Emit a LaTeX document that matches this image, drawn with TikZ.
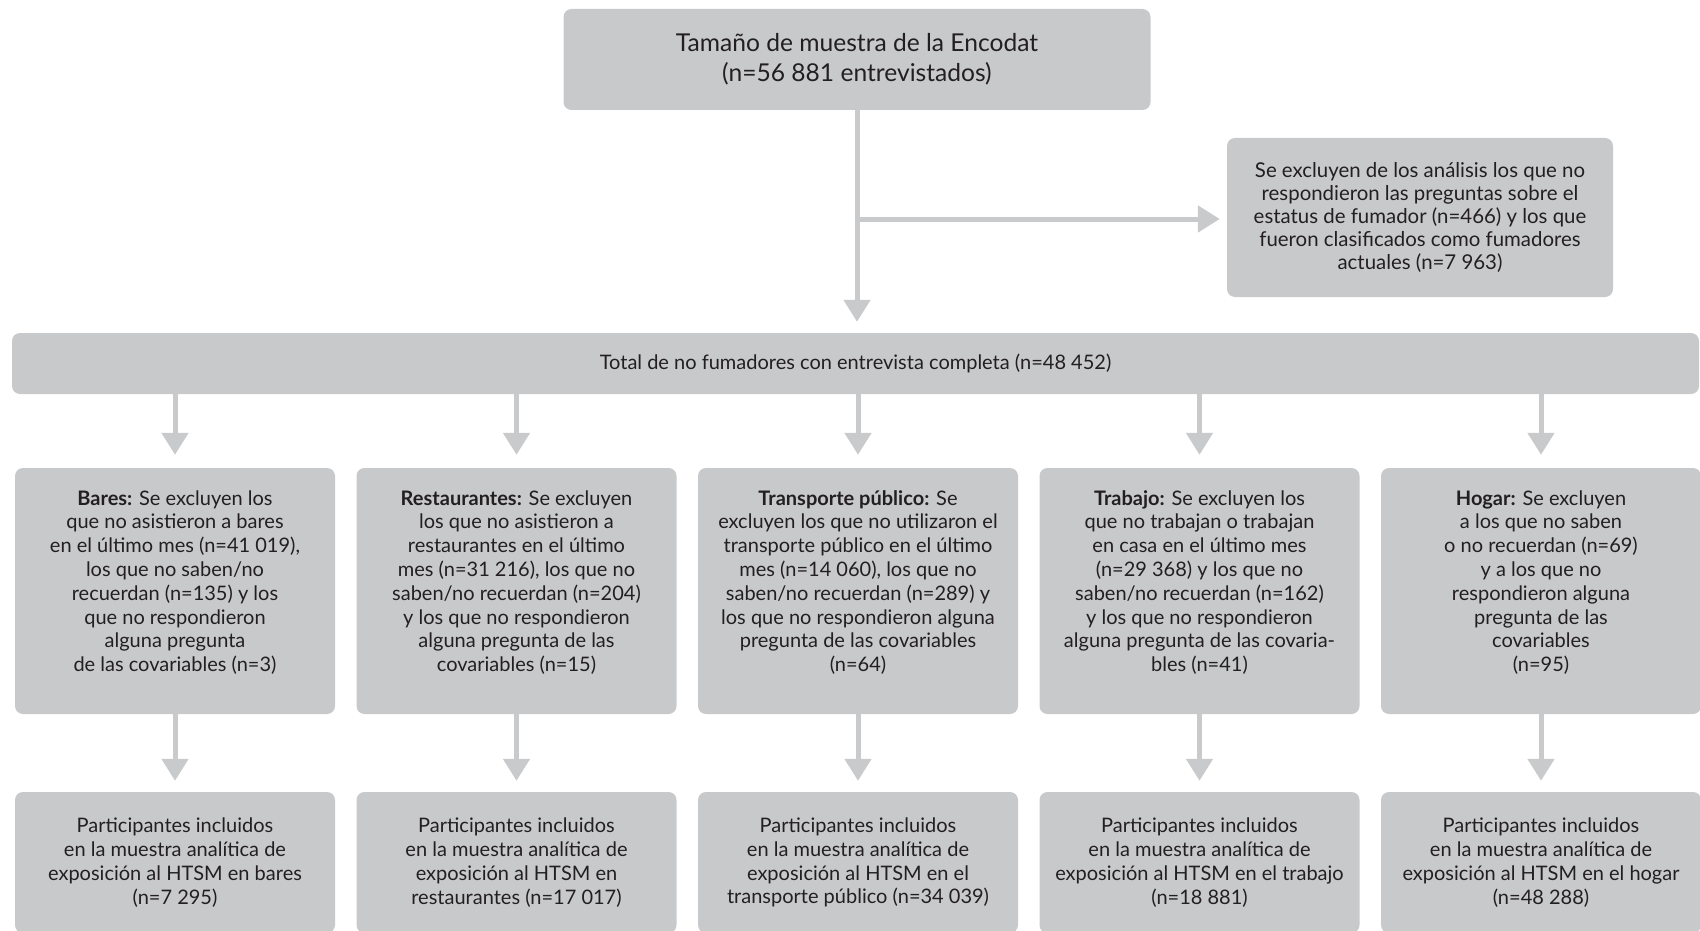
\documentclass[tikz,border=0pt]{standalone}
\usepackage{fontspec}
\setmainfont{Lato}
\usetikzlibrary{arrows.meta}
\definecolor{boxgray}{HTML}{C8C9CB}
\definecolor{arrgray}{HTML}{C9CACC}
\definecolor{txt}{HTML}{231F20}
\newcommand{\midtext}[1]{\parbox[t][215pt][t]{320pt}{\centering\rule{0pt}{21.5pt}#1}}
\tikzset{
  box/.style={fill=boxgray, rounded corners=8pt, draw=none, text=txt, inner sep=0pt, align=center},
  bodyfont/.style={font=\fontsize{20}{23.8}\selectfont},
  midbox/.style={box, bodyfont, minimum width=320pt, minimum height=246pt, inner ysep=15.5pt},
  botbox/.style={box, bodyfont, minimum width=320pt, minimum height=141pt},
  arr/.style={draw=arrgray, line width=5pt, -{Triangle[width=26pt,length=22pt]}}
}
\begin{document}
\begin{tikzpicture}[x=1pt,y=-1pt]
\useasboundingbox (0,0) rectangle (1700,931);

\node[box, minimum width=587pt, minimum height=101pt, font=\fontsize{24.6}{30}\selectfont] (top) at (857,59.5)
  {Tamaño de muestra de la Encodat\\(n=56~881 entrevistados)};

\node[box, minimum width=386pt, minimum height=159pt, font=\fontsize{20.4}{23}\selectfont] (excl) at (1420,217.5)
  {Se excluyen de los análisis los que no\\respondieron las preguntas sobre el\\estatus de fumador (n=466) y los que\\fueron clasificados como fumadores\\actuales (n=7~963)};

\node[box, bodyfont, minimum width=1687pt, minimum height=61pt] (total) at (855.5,363.5)
  {Total de no fumadores con entrevista completa (n=48~452)};

\node[midbox] (m1) at (175,591) {\midtext{\textbf{Bares:} Se excluyen los\\que no asistieron a bares\\en el último mes (n=41~019),\\los que no saben/no\\recuerdan (n=135) y los\\que no respondieron\\alguna pregunta\\de las covariables (n=3)}};
\node[midbox] (m2) at (516.5,591) {\midtext{\textbf{Restaurantes:} Se excluyen\\los que no asistieron a\\restaurantes en el último\\mes (n=31~216), los que no\\saben/no recuerdan (n=204)\\y los que no respondieron\\alguna pregunta de las\\covariables (n=15)}};
\node[midbox] (m3) at (858,591) {\midtext{\textbf{Transporte público:} Se\\excluyen los que no utilizaron el\\transporte público en el último\\mes (n=14~060), los que no\\saben/no recuerdan (n=289) y\\los que no respondieron alguna\\pregunta de las covariables\\(n=64)}};
\node[midbox] (m4) at (1199.5,591) {\midtext{\textbf{Trabajo:} Se excluyen los\\que no trabajan o trabajan\\en casa en el último mes\\(n=29~368) y los que no\\saben/no recuerdan (n=162)\\y los que no respondieron\\alguna pregunta de las covaria-\\bles (n=41)}};
\node[midbox] (m5) at (1541,591) {\midtext{\textbf{Hogar:} Se excluyen\\a los que no saben\\o no recuerdan (n=69)\\y a los que no\\respondieron alguna\\pregunta de las\\covariables\\(n=95)}};

\node[botbox] (b1) at (175,862.5) {Participantes incluidos\\en la muestra analítica de\\exposición al HTSM en bares\\(n=7~295)};
\node[botbox] (b2) at (516.5,862.5) {Participantes incluidos\\en la muestra analítica de\\exposición al HTSM en\\restaurantes (n=17~017)};
\node[botbox] (b3) at (858,862.5) {Participantes incluidos\\en la muestra analítica de\\exposición al HTSM en el\\transporte público (n=34~039)};
\node[botbox] (b4) at (1199.5,862.5) {Participantes incluidos\\en la muestra analítica de\\exposición al HTSM en el trabajo\\(n=18~881)};
\node[botbox] (b5) at (1541,862.5) {Participantes incluidos\\en la muestra analítica de\\exposición al HTSM en el hogar\\(n=48~288)};

\coordinate (branch) at (857,219);
\draw[arr, shorten >=11pt] (top.south) -- (top.south |- total.north);
\draw[arr, shorten >=7pt] (branch) -- (branch -| excl.west);
\foreach \i in {1,...,5} {
  \draw[arr, shorten >=13pt] (m\i.north |- total.south) -- (m\i.north);
  \draw[arr, shorten >=11pt] (m\i.south) -- (b\i.north);
}
\end{tikzpicture}
\end{document}
